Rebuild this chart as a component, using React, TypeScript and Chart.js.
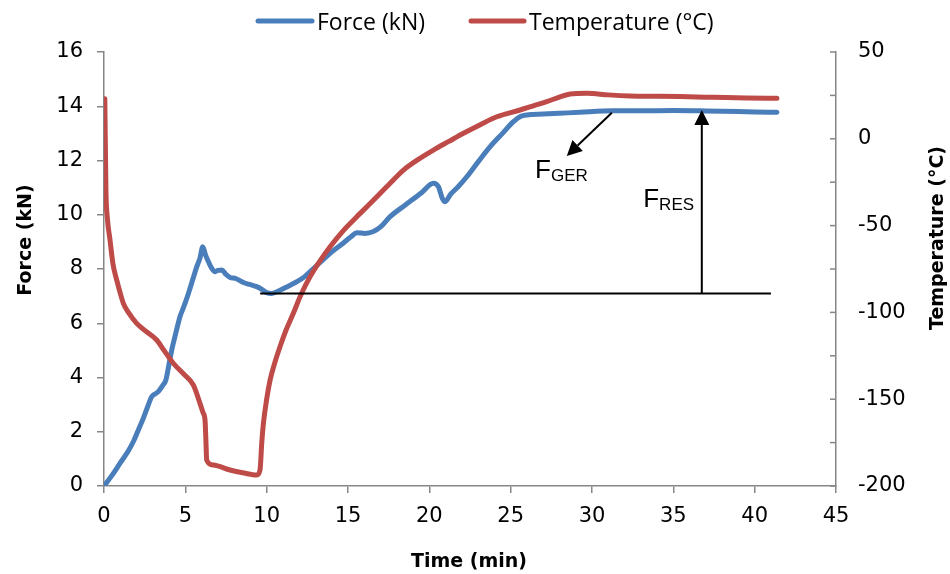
import React, { useEffect, useRef } from 'react';
import { Chart, registerables } from 'chart.js';

Chart.register(...registerables);

// ---- Data ----
const forceTime = [0, 0.5, 1, 1.5, 1.8, 2.1, 2.42, 2.7, 2.93, 3.1, 3.34, 3.6, 3.8, 4.0, 4.16, 4.4, 4.67, 4.9, 5.19, 5.45, 5.7, 5.9, 6.07, 6.25, 6.42, 6.6, 6.83, 7.0, 7.24, 7.5, 7.75, 8.1, 8.57, 9.0, 9.39, 9.7, 10.0, 10.3, 10.62, 11.2, 11.85, 12.3, 12.67, 13.3, 13.9, 14.7, 15.2, 15.54, 16.05, 16.56, 17.0, 17.59, 18.5, 19.5, 20.25, 20.56, 20.8, 20.97, 21.3, 21.8, 22.3, 23.0, 23.74, 24.5, 25.17, 25.6, 26.0, 27, 28, 29.27, 31.3, 33, 35, 36.65, 38, 40, 41.37];
const forceKN = [0, 0.4, 0.85, 1.3, 1.63, 2.05, 2.5, 2.95, 3.29, 3.38, 3.48, 3.7, 3.9, 4.5, 5.0, 5.6, 6.24, 6.6, 7.1, 7.6, 8.08, 8.4, 8.82, 8.5, 8.27, 8.05, 7.9, 7.95, 7.96, 7.8, 7.69, 7.65, 7.5, 7.42, 7.35, 7.25, 7.13, 7.1, 7.16, 7.33, 7.53, 7.7, 7.9, 8.25, 8.58, 8.95, 9.2, 9.34, 9.31, 9.38, 9.55, 9.93, 10.35, 10.8, 11.16, 11.03, 10.6, 10.48, 10.75, 11.05, 11.4, 11.95, 12.51, 13.0, 13.43, 13.62, 13.68, 13.71, 13.74, 13.78, 13.83, 13.83, 13.84, 13.83, 13.82, 13.79, 13.78];

const tempTime = [0.05, 0.12, 0.2, 0.37, 0.55, 0.78, 1.0, 1.19, 1.5, 2.01, 2.6, 3.24, 3.7, 4.26, 4.9, 5.49, 5.9, 6.1, 6.21, 6.27, 6.31, 6.72, 7.75, 8.6, 9.39, 9.59, 9.7, 9.8, 10.0, 10.21, 10.5, 10.82, 11.2, 11.64, 12.1, 12.67, 13.3, 13.9, 14.7, 15.54, 16.5, 17.59, 18.41, 19.3, 20.25, 21.2, 22.1, 23.1, 24.15, 25.58, 26.4, 27.22, 28.0, 28.66, 29.69, 31, 32.35, 34, 35.4, 37.5, 39.5, 41.37];
const tempC = [23, -30, -45, -58.3, -72, -81.3, -89, -94.8, -100, -106.3, -111, -115.9, -122, -129.3, -135.5, -141.8, -152.4, -158, -162, -175, -185, -187.9, -190.8, -192.5, -193.7, -190.8, -175, -163.9, -150, -139, -129, -119.8, -110, -100.5, -90, -79.4, -70, -62.2, -53, -44.9, -36, -25.6, -18, -12, -6.5, -1.5, 3.2, 8, 12.7, 16.6, 19, 21.4, 24, 25.8, 26.2, 25.3, 24.7, 24.5, 24.3, 23.9, 23.5, 23.3];

const seriesNames = ['Force (kN)', 'Temperature (°C)'];
const xTitle = 'Time (min)';
const yTitle = 'Force (kN)';
const y1Title = 'Temperature (°C)';

// annotation anchors (data units: time, force)
const baseLine = { from: 9.6, to: 41.0, force: 7.1 };
const fresArrow = { time: 36.75, from: 7.1, to: 13.86 };
const fgerArrow = { fromT: 31.22, fromF: 13.76, toT: 28.45, toF: 12.17 };
const fgerLabel = { time: 26.5, force: 11.34, main: 'F', sub: 'GER' };
const fresLabel = { time: 33.15, force: 10.3, main: 'F', sub: 'RES' };

const BLUE = '#4A7EBB';
const RED = '#BE4B48';
const AXIS = '#868686';
const TICK_FONT = '21px "DejaVu Sans", sans-serif';

function arrow(ctx: CanvasRenderingContext2D, x0: number, y0: number, x1: number, y1: number) {
  const ang = Math.atan2(y1 - y0, x1 - x0);
  const len = 15;
  const hw = 7.5;
  const bx = x1 - Math.cos(ang) * len;
  const by = y1 - Math.sin(ang) * len;
  ctx.beginPath();
  ctx.moveTo(x0, y0);
  ctx.lineTo(bx, by);
  ctx.stroke();
  ctx.beginPath();
  ctx.moveTo(x1, y1);
  ctx.lineTo(bx + Math.sin(ang) * hw, by - Math.cos(ang) * hw);
  ctx.lineTo(bx - Math.sin(ang) * hw, by + Math.cos(ang) * hw);
  ctx.closePath();
  ctx.fill();
}

const overlay = {
  id: 'overlay',
  afterDatasetsDraw(chart: any) {
    const { ctx, chartArea, scales } = chart;
    const x = scales.x;
    const y = scales.y;
    const y1 = scales.y1;
    ctx.save();
    // inward ticks and labels of right axis
    ctx.strokeStyle = AXIS;
    ctx.lineWidth = 1.5;
    ctx.fillStyle = '#000';
    ctx.font = TICK_FONT;
    ctx.textAlign = 'left';
    ctx.textBaseline = 'middle';
    y1.ticks.forEach((t: any) => {
      const py = y1.getPixelForValue(t.value);
      ctx.beginPath();
      ctx.moveTo(chartArea.right - 6, py);
      ctx.lineTo(chartArea.right, py);
      ctx.stroke();
      if (t.value % 50 === 0) ctx.fillText(String(t.value), chartArea.right + 22, py);
    });
    // annotations
    ctx.strokeStyle = '#000';
    ctx.fillStyle = '#000';
    ctx.lineWidth = 2;
    const by = y.getPixelForValue(baseLine.force);
    ctx.beginPath();
    ctx.moveTo(x.getPixelForValue(baseLine.from), by);
    ctx.lineTo(x.getPixelForValue(baseLine.to), by);
    ctx.stroke();
    const fx = x.getPixelForValue(fresArrow.time);
    arrow(ctx, fx, y.getPixelForValue(fresArrow.from), fx, y.getPixelForValue(fresArrow.to));
    arrow(
      ctx,
      x.getPixelForValue(fgerArrow.fromT),
      y.getPixelForValue(fgerArrow.fromF),
      x.getPixelForValue(fgerArrow.toT),
      y.getPixelForValue(fgerArrow.toF)
    );
    ctx.textAlign = 'left';
    ctx.textBaseline = 'alphabetic';
    [fgerLabel, fresLabel].forEach((l) => {
      const lx = x.getPixelForValue(l.time);
      const ly = y.getPixelForValue(l.force);
      ctx.font = '26px "Liberation Sans", Arial, sans-serif';
      ctx.fillText(l.main, lx, ly);
      const w = ctx.measureText(l.main).width;
      ctx.font = '17px "Liberation Sans", Arial, sans-serif';
      ctx.fillText(l.sub, lx + w, ly + 3);
    });
    ctx.restore();
  },
  afterDraw(chart: any) {
    const { ctx } = chart;
    ctx.save();
    // legend
    ctx.lineCap = 'round';
    ctx.lineWidth = 5;
    ctx.strokeStyle = BLUE;
    ctx.beginPath();
    ctx.moveTo(258, 21);
    ctx.lineTo(312, 21);
    ctx.stroke();
    ctx.strokeStyle = RED;
    ctx.beginPath();
    ctx.moveTo(471, 21);
    ctx.lineTo(524, 21);
    ctx.stroke();
    ctx.fillStyle = '#000';
    ctx.font = '23px "Open Sans", sans-serif';
    ctx.textAlign = 'left';
    ctx.textBaseline = 'alphabetic';
    ctx.fillText(seriesNames[0], 317, 29.5);
    ctx.fillText(seriesNames[1], 529, 29.5);
    // axis titles
    ctx.font = 'bold 19px "DejaVu Sans", sans-serif';
    ctx.textAlign = 'center';
    ctx.fillText(xTitle, 469, 567);
    ctx.save();
    ctx.translate(31, 240);
    ctx.rotate(-Math.PI / 2);
    ctx.fillText(yTitle, 0, 0);
    ctx.restore();
    ctx.save();
    ctx.translate(943, 238);
    ctx.rotate(-Math.PI / 2);
    ctx.fillText(y1Title, 0, 0);
    ctx.restore();
    ctx.restore();
  },
};

export default function App() {
  const ref = useRef<HTMLCanvasElement | null>(null);
  useEffect(() => {
    if (!ref.current) return;
    const tickFont = { family: '"DejaVu Sans", sans-serif', size: 21 };
    const chart = new Chart(ref.current, {
      type: 'line',
      data: {
        datasets: [
          {
            label: seriesNames[0],
            data: forceTime.map((t, i) => ({ x: t, y: forceKN[i] })),
            borderColor: BLUE,
            backgroundColor: BLUE,
            borderWidth: 5,
            pointRadius: 0,
            cubicInterpolationMode: 'monotone',
            borderCapStyle: 'round',
            borderJoinStyle: 'round',
            yAxisID: 'y',
            order: 1,
          },
          {
            label: seriesNames[1],
            data: tempTime.map((t, i) => ({ x: t, y: tempC[i] })),
            borderColor: RED,
            backgroundColor: RED,
            borderWidth: 5,
            pointRadius: 0,
            cubicInterpolationMode: 'monotone',
            borderCapStyle: 'round',
            borderJoinStyle: 'round',
            yAxisID: 'y1',
            order: 0,
          },
        ],
      },
      options: {
        responsive: false,
        animation: false,
        layout: { padding: { top: 52, left: 0, right: 0, bottom: 0 } },
        plugins: { legend: { display: false }, tooltip: { enabled: false } },
        scales: {
          x: {
            type: 'linear',
            min: 0,
            max: 45,
            ticks: { stepSize: 5, color: '#000', font: tickFont, padding: 11, maxRotation: 0 },
            grid: { drawOnChartArea: false, drawTicks: true, tickLength: 7, color: AXIS, lineWidth: 1.5 },
            border: { color: AXIS, width: 1.5 },
            afterFit: (s: any) => { s.height = 88; },
          },
          y: {
            type: 'linear',
            position: 'left',
            min: 0,
            max: 16,
            ticks: { stepSize: 2, color: '#000', font: tickFont, padding: 14 },
            grid: { drawOnChartArea: false, drawTicks: true, tickLength: 7, color: AXIS, lineWidth: 1.5 },
            border: { color: AXIS, width: 1.5 },
            afterFit: (s: any) => { s.width = 104; },
          },
          y1: {
            type: 'linear',
            position: 'right',
            min: -200,
            max: 50,
            ticks: { stepSize: 25, display: false },
            grid: { display: false },
            border: { display: true, color: AXIS, width: 1.5 },
            afterFit: (s: any) => { s.width = 114; },
          },
        },
      },
      plugins: [overlay],
    } as any);
    return () => chart.destroy();
  }, []);
  return (
    <div style={{ position: 'fixed', left: 0, top: 0, width: 950, height: 574, background: '#fff' }}>
      <canvas ref={ref} width={950} height={574} style={{ display: 'block' }} />
    </div>
  );
}
